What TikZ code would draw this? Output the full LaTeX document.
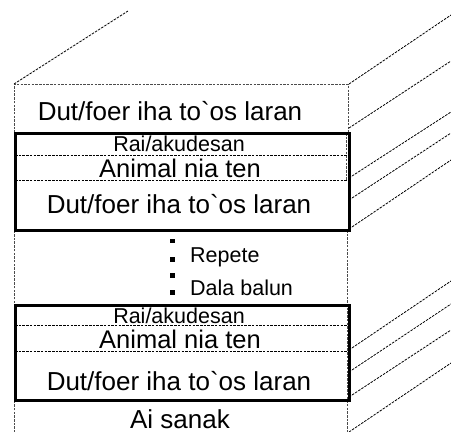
\documentclass[tikz,border=0pt]{standalone}
\usepackage{fontspec}
\newfontfamily\lsans{Liberation Sans}
\begin{document}
\begin{tikzpicture}[x=1pt,y=-1pt,
  thin dash/.style={line width=0.8pt,dash pattern=on 2.5pt off 1.2pt,draw=black},
  edge dash/.style={line width=0.8pt,dash pattern=on 2.5pt off 1.2pt,draw=black!70},
  bold box/.style={line width=3pt,draw=black},
  big/.style={font=\lsans\fontsize{26}{30}\selectfont,inner sep=0pt,anchor=base},
  mid/.style={font=\lsans\fontsize{25.5}{30}\selectfont,inner sep=0pt,anchor=base},
  small/.style={font=\lsans\fontsize{21.5}{26}\selectfont,inner sep=0pt,anchor=base},
  side/.style={font=\lsans\fontsize{21.5}{26}\selectfont,inner sep=0pt,anchor=base west},
  dot/.style={fill=black,minimum size=4.5pt,inner sep=0pt,draw=none}]
\useasboundingbox (0,0) rectangle (451,432);
\clip (0,0) rectangle (451,432);

% outer dashed frame
\coordinate (tl) at (14,84);
\coordinate (tr) at (348,84);
\coordinate (bl) at (14,440);
\coordinate (br) at (347,440);
\draw[edge dash] (bl) -- (tl) -- (tr) -- (348,133);
\draw[edge dash] (347,230) -- (br);
\draw[edge dash] (346,133) -- (346,180);

% left top diagonal
\coordinate (lt) at (128,11);
\draw[thin dash] (tl) -- (lt);

% right diagonals
\foreach \i/\ya/\yb in {1/84/15, 2/128/61, 3/178/112, 4/200/133, 5/229/160,
                        6/350/281, 7/372/304, 8/397/330, 9/432/363}{
  \coordinate (ra\i) at (349,\ya);
  \coordinate (rb\i) at (451,\yb);
  \draw[thin dash] (ra\i) -- (rb\i);
}

% first bold box
\coordinate (b1a) at (15,133);
\coordinate (b1b) at (349,230);
\draw[thin dash] (15,155.5) -- (349,155.5);
\draw[thin dash] (15,180) -- (349,180);
\draw[bold box] (b1a) rectangle (b1b);

% second bold box
\coordinate (b2a) at (15,305);
\coordinate (b2b) at (349,400);
\draw[thin dash] (15,325.5) -- (349,325.5);
\draw[thin dash] (15,351.5) -- (349,351.5);
\draw[bold box] (b2a) rectangle (b2b);

% texts
\node[big]   (d0) at (170,120.7) {Dut/foer iha to`os laran};
\node[small] (r1) at (179,151.5) {Rai/akudesan};
\node[mid]   (a1) at (180,177)   {Animal nia ten};
\node[big]   (d1) at (179,213.5) {Dut/foer iha to`os laran};
\node[side]  (rp) at (190,262)   {Repete};
\node[side]  (db) at (190,295)   {Dala balun};
\node[small] (r2) at (179,323.3) {Rai/akudesan};
\node[mid]   (a2) at (180,348.3) {Animal nia ten};
\node[big]   (d2) at (179,390)   {Dut/foer iha to`os laran};
\node[big,text depth=0pt] (ai) at (180,428.5) {Ai sanak};

% dots
\node[dot] (p1) at (172.5,241) {};
\node[dot] (p2) at (172.5,259.5) {};
\node[dot] (p3) at (172.5,275.5) {};
\node[dot] (p4) at (172.5,292.5) {};
\end{tikzpicture}
\end{document}
